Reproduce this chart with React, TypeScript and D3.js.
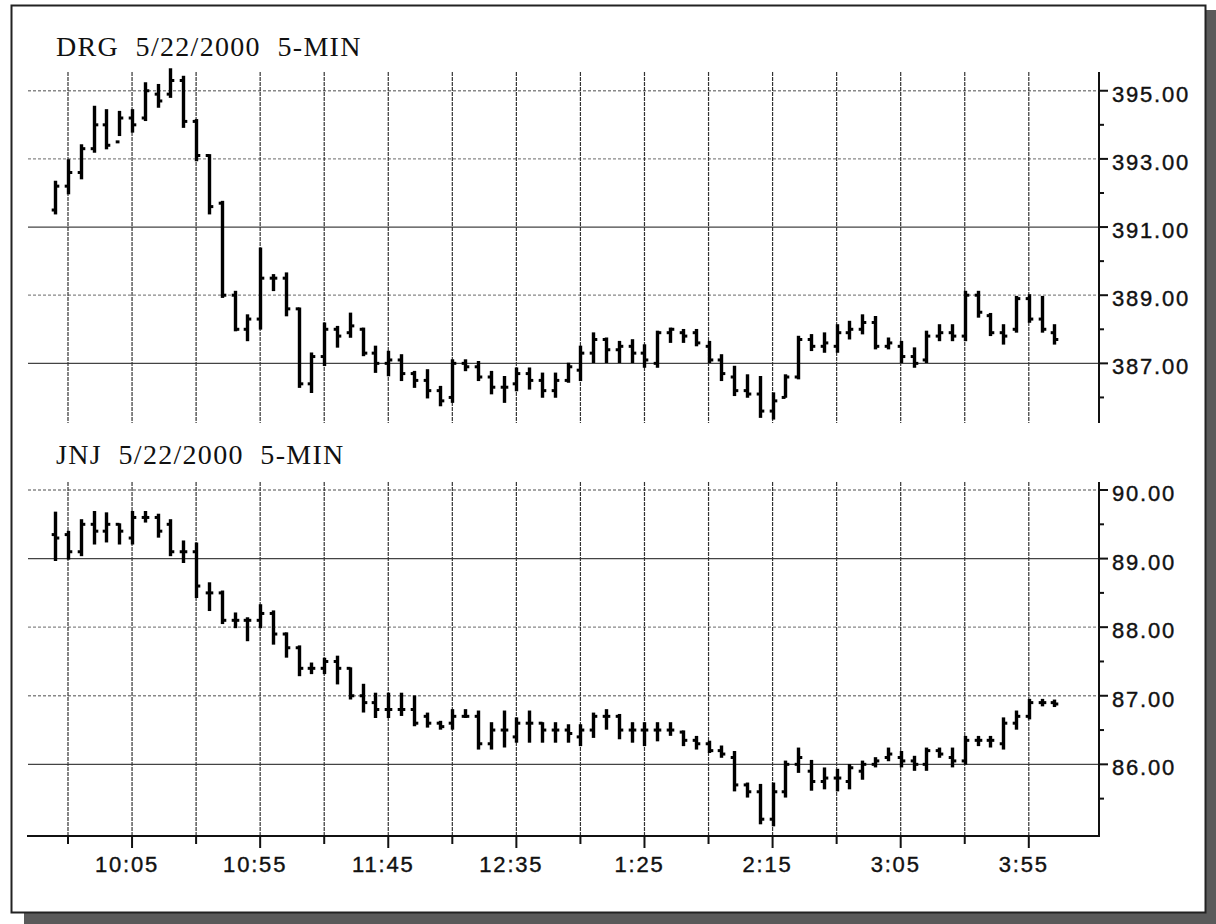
import React from "react";
import * as d3 from "d3";

const drgOpen = [391.5,392.2,392.6,393.3,394.0,393.5,394.2,394.2,394.9,394.9,395.3,394.1,393.1,391.7,389.0,388.0,388.3,389.5,389.5,388.6,386.4,387.2,388.0,387.9,388.0,387.3,387.0,387.1,386.7,386.5,386.2,386.0,387.0,386.9,386.6,386.3,386.4,386.7,386.5,386.2,386.5,386.8,387.3,387.7,387.4,387.5,387.3,387.0,387.9,387.9,387.9,387.5,387.1,386.6,386.2,386.1,385.6,386.0,386.6,387.7,387.5,387.5,387.9,388.0,388.2,387.5,387.5,387.2,387.1,387.8,387.9,387.8,389.0,388.4,387.9,388.0,388.9,388.3,387.9];
const drgHigh = [392.33,392.96,393.40,394.53,394.43,394.38,394.43,395.22,395.17,395.63,395.41,394.14,393.11,391.74,389.10,388.41,390.37,389.59,389.64,388.61,387.29,388.17,388.07,388.46,388.02,387.49,387.34,387.24,386.75,386.80,386.31,387.09,387.09,387.04,386.75,386.60,386.85,386.85,386.70,386.70,386.99,387.49,387.88,387.73,387.63,387.68,387.53,387.93,388.02,387.98,387.98,387.63,387.24,386.90,386.65,386.60,386.12,386.65,387.78,387.83,387.88,388.12,388.22,388.41,388.36,387.73,387.63,387.44,387.93,388.12,388.12,389.10,389.10,388.45,388.12,388.95,389.00,388.95,388.12];
const drgLow = [391.40,391.99,392.43,393.21,393.31,393.70,393.80,394.14,394.53,394.82,393.94,392.96,391.40,388.95,387.97,387.68,388.02,389.15,388.41,386.31,386.16,386.95,387.49,387.78,387.24,386.75,386.65,386.51,386.31,386.00,385.77,385.87,386.80,386.51,386.12,385.87,386.21,386.26,386.02,386.02,386.46,386.51,387.04,387.04,387.04,387.04,386.90,386.90,387.63,387.63,387.53,387.04,386.51,386.07,386.02,385.43,385.38,386.02,386.56,387.39,387.34,387.34,387.73,387.88,387.44,387.44,387.04,386.90,387.04,387.68,387.68,387.68,388.37,387.83,387.58,387.93,388.22,387.93,387.58];
const drgClose = [392.2,392.6,393.3,394.0,393.4,394.2,394.0,395.0,394.7,395.3,394.1,393.1,391.6,389.0,388.0,388.3,389.5,389.5,388.6,386.4,387.2,388.0,387.8,388.1,387.3,387.0,387.1,386.7,386.5,386.2,385.9,387.0,386.9,386.6,386.3,386.3,386.7,386.5,386.2,386.5,386.9,387.3,387.7,387.4,387.5,387.3,387.1,387.9,388.0,387.8,387.6,387.1,386.7,386.2,386.1,385.6,385.9,386.6,387.7,387.5,387.6,387.9,388.0,388.2,387.5,387.6,387.2,387.0,387.8,387.9,387.8,389.0,388.5,387.9,387.8,388.9,388.3,388.0,387.7];

const jnjOpen = [89.35,89.35,89.1,89.5,89.4,89.5,89.3,89.6,89.6,89.5,89.1,89.1,88.5,88.5,88.1,88.1,88.1,88.2,87.9,87.7,87.4,87.4,87.5,87.4,87.0,86.9,86.8,86.8,86.8,86.7,86.6,86.6,86.7,86.7,86.3,86.5,86.4,86.6,86.6,86.5,86.5,86.4,86.5,86.7,86.7,86.5,86.5,86.5,86.5,86.47,86.35,86.3,86.2,86.1,85.7,85.6,85.2,85.6,86.0,85.9,85.75,85.8,85.75,85.9,86.0,86.1,86.1,86.05,86.0,86.2,86.1,86.05,86.35,86.35,86.3,86.6,86.7,86.9,86.9];
const jnjHigh = [89.67,89.39,89.56,89.68,89.66,89.50,89.68,89.68,89.64,89.56,89.25,89.22,88.64,88.52,88.20,88.13,88.32,88.23,87.91,87.72,87.47,87.54,87.57,87.40,87.16,87.03,87.03,87.03,86.99,86.74,86.62,86.79,86.79,86.77,86.60,86.77,86.67,86.77,86.60,86.60,86.57,86.57,86.74,86.79,86.72,86.60,86.60,86.60,86.60,86.48,86.40,86.33,86.26,86.18,85.72,85.70,85.72,86.04,86.23,86.05,85.94,85.92,85.99,86.04,86.09,86.23,86.18,86.11,86.23,86.23,86.23,86.40,86.40,86.40,86.67,86.77,86.94,86.94,86.93];
const jnjLow = [88.98,89.00,89.05,89.22,89.25,89.22,89.22,89.54,89.32,89.05,88.95,88.44,88.25,88.06,88.00,87.81,88.00,87.76,87.57,87.30,87.33,87.33,87.18,86.96,86.77,86.69,86.69,86.72,86.57,86.55,86.52,86.52,86.69,86.23,86.23,86.26,86.33,86.33,86.33,86.33,86.33,86.28,86.40,86.52,86.38,86.33,86.28,86.35,86.43,86.28,86.23,86.18,86.11,85.62,85.53,85.14,85.11,85.53,85.89,85.63,85.65,85.62,85.65,85.79,85.97,86.06,85.97,85.92,85.92,86.11,85.97,86.01,86.28,86.26,86.23,86.52,86.67,86.86,86.85];
const jnjClose = [89.3,89.1,89.5,89.4,89.5,89.4,89.6,89.6,89.4,89.1,89.1,88.6,88.5,88.1,88.1,88.1,88.2,87.9,87.7,87.4,87.4,87.5,87.4,87.0,86.9,86.8,86.8,86.8,86.6,86.6,86.55,86.7,86.7,86.3,86.5,86.5,86.6,86.6,86.5,86.5,86.45,86.5,86.7,86.7,86.5,86.5,86.5,86.5,86.5,86.35,86.3,86.2,86.15,85.7,85.6,85.2,85.6,86.0,86.1,85.75,85.8,85.8,85.95,86.0,86.05,86.15,86.05,86.0,86.2,86.15,86.05,86.35,86.35,86.35,86.6,86.7,86.9,86.9,86.88];

// bar index i corresponds to 9:35 + 5*i minutes; grid every 5 bars from index 1
const gridIdx = [1,6,11,16,21,26,31,36,41,46,51,56,61,66,71,76];
const labelIdx = [6,16,26,36,46,56,66,76];
const timeLabels = ["10:05","10:55","11:45","12:35","1:25","2:15","3:05","3:55"];

const drgTicks = [395,393,391,389,387];
const drgMinor = [394,392,390,388,386];
const drgSolid = [391,387];
const jnjTicks = [90,89,88,87,86];
const jnjMinor = [89.5,88.5,87.5,86.5,85.5];
const jnjSolid = [89,86];

const x = d3.scaleLinear().domain([-2.2, 81.48]).range([27, 1099]);
const yTop = d3.scaleLinear().domain([385.25, 395.55]).range([423, 72]);
const yBot = d3.scaleLinear().domain([84.955, 90.117]).range([836, 482]);

const LABEL_FONT = "'Liberation Sans', Arial, sans-serif";
const TITLE_FONT = "'Liberation Serif', 'Times New Roman', serif";

function Panel({ title, yScale, o, h, l, c, ticks, minor, solid, fmt, titleY }: any) {
  const [y1, y0] = yScale.range();
  const left = 28;
  const right = 1099;
  return (
    <g>
      <text x={56} y={titleY} fontFamily={TITLE_FONT} fontSize={28} letterSpacing={1.3} style={{ whiteSpace: "pre" }} fill="#111">{title}</text>
      {ticks.map((t: number) => (
        <line key={"h" + t} x1={left} x2={right} y1={yScale(t)} y2={yScale(t)}
          stroke={solid.includes(t) ? "#444" : "#888"} strokeWidth={1.3}
          strokeDasharray={solid.includes(t) ? undefined : "3,2"} />
      ))}
      {gridIdx.map((i: number) => (
        <line key={"v" + i} x1={x(i)} x2={x(i)} y1={y0} y2={y1} stroke="#333" strokeWidth={1.2} strokeDasharray="4,1" />
      ))}
      {o.map((_: number, i: number) => {
        const cx = Math.round(x(i)) + 0.5;
        return (
          <g key={"b" + i}>
            <line x1={cx} x2={cx} y1={yScale(h[i]) - 1} y2={yScale(l[i]) + 1} stroke="#000" strokeWidth={3.4} />
            <line x1={cx - 3.8} x2={cx} y1={yScale(o[i])} y2={yScale(o[i])} stroke="#000" strokeWidth={3} />
            <line x1={cx} x2={cx + 3.8} y1={yScale(c[i])} y2={yScale(c[i])} stroke="#000" strokeWidth={3} />
          </g>
        );
      })}
      <line x1={right} x2={right} y1={y0} y2={y1} stroke="#111" strokeWidth={2} />
      {ticks.map((t: number) => (
        <g key={"t" + t}>
          <line x1={right} x2={right + 9} y1={yScale(t)} y2={yScale(t)} stroke="#111" strokeWidth={2} />
          <text x={1112} y={yScale(t) + 11} fontFamily={LABEL_FONT} fontSize={22} letterSpacing={1.8} fill="#111" stroke="#111" strokeWidth={0.4}>{fmt(t)}</text>
        </g>
      ))}
      {minor.map((t: number) => (
        <line key={"m" + t} x1={right} x2={right + 5} y1={yScale(t)} y2={yScale(t)} stroke="#111" strokeWidth={2} />
      ))}
    </g>
  );
}

export default function App() {
  const fmt = d3.format(".2f");
  return (
    <svg width={1216} height={924} style={{ position: "absolute", left: 0, top: 0, background: "#fff" }}>
      <rect x={0} y={0} width={1216} height={924} fill="#fff" />
      <rect x={1206} y={10} width={10} height={914} fill="#5a5a5a" />
      <rect x={24} y={913} width={1192} height={11} fill="#5a5a5a" />
      <rect x={11.5} y={5.5} width={1194} height={907} fill="#fff" stroke="#222" strokeWidth={2} />
      <Panel title={"DRG  5/22/2000  5-MIN"} titleY={56} yScale={yTop}
        o={drgOpen} h={drgHigh} l={drgLow} c={drgClose}
        ticks={drgTicks} minor={drgMinor} solid={drgSolid} fmt={fmt} />
      <Panel title={"JNJ  5/22/2000  5-MIN"} titleY={464} yScale={yBot}
        o={jnjOpen} h={jnjHigh} l={jnjLow} c={jnjClose}
        ticks={jnjTicks} minor={jnjMinor} solid={jnjSolid} fmt={fmt} />
      <line x1={27} x2={1100} y1={836} y2={836} stroke="#111" strokeWidth={2} />
      {gridIdx.map((i: number) => (
        <line key={"xt" + i} x1={x(i)} x2={x(i)} y1={836} y2={labelIdx.includes(i) ? 848 : 844} stroke="#111" strokeWidth={2} />
      ))}
      {labelIdx.map((i: number, k: number) => (
        <text key={"xl" + i} x={x(i) - 5} y={872} textAnchor="middle" fontFamily={LABEL_FONT} fontSize={22} letterSpacing={1.8} fill="#111" stroke="#111" strokeWidth={0.4}>{timeLabels[k]}</text>
      ))}
    </svg>
  );
}
